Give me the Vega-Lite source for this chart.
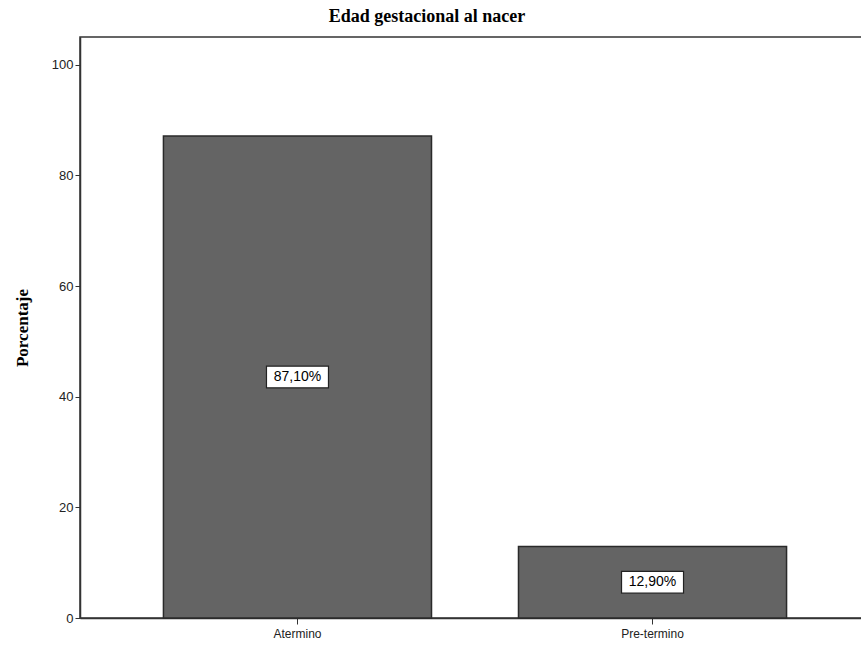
{
  "$schema": "https://vega.github.io/schema/vega-lite/v6.json",
  "autosize": {"type": "none"},
  "width": 790,
  "height": 581,
  "padding": {"left": 80, "top": 37, "right": 0, "bottom": 30},
  "background": "white",
  "title": {
    "text": "Edad gestacional al nacer",
    "font": "Liberation Serif",
    "fontSize": 18,
    "fontWeight": "bold",
    "color": "#000000",
    "offset": 11,
    "dx": -48
  },
  "config": {
    "view": {"stroke": "#333333", "strokeWidth": 1.5}
  },
  "data": {
    "values": [
      {"categoria": "Atermino", "porcentaje": 87.1, "pos_etiqueta": 43.55, "etiqueta": "87,10%"},
      {"categoria": "Pre-termino", "porcentaje": 12.9, "pos_etiqueta": 6.45, "etiqueta": "12,90%"}
    ]
  },
  "encoding": {
    "x": {
      "field": "categoria",
      "type": "nominal",
      "sort": null,
      "scale": {"paddingInner": 0.245, "paddingOuter": 0.235, "align": 0.5},
      "axis": {
        "title": null,
        "labelAngle": 0,
        "labelFont": "Liberation Sans",
        "labelFontSize": 12,
        "labelColor": "#222222",
        "labelPadding": 4,
        "tickSize": 6,
        "tickColor": "#333333",
        "domainColor": "#333333",
        "domainWidth": 1.5,
        "grid": false
      }
    }
  },
  "layer": [
    {
      "mark": {"type": "bar", "color": "#646464", "stroke": "#2a2a2a", "strokeWidth": 1.5},
      "encoding": {
        "y": {
          "field": "porcentaje",
          "type": "quantitative",
          "scale": {"domain": [0, 105], "nice": false},
          "axis": {
            "title": "Porcentaje",
            "titleFont": "Liberation Serif",
            "titleFontSize": 17,
            "titleFontWeight": "bold",
            "titleColor": "#000000",
            "titlePadding": 20,
            "values": [0, 20, 40, 60, 80, 100],
            "labelFont": "Liberation Sans",
            "labelFontSize": 13,
            "labelColor": "#222222",
            "labelPadding": 2,
            "tickSize": 5,
            "tickColor": "#333333",
            "domainColor": "#333333",
            "domainWidth": 1.5,
            "grid": false
          }
        }
      }
    },
    {
      "mark": {
        "type": "point",
        "shape": "M-1,-0.35H1V0.35H-1Z",
        "size": 3844,
        "filled": true,
        "fill": "white",
        "stroke": "#222222",
        "strokeWidth": 1.2,
        "opacity": 1
      },
      "encoding": {
        "y": {"field": "pos_etiqueta", "type": "quantitative"}
      }
    },
    {
      "mark": {"type": "text", "font": "Liberation Sans", "fontSize": 14, "color": "#000000"},
      "encoding": {
        "y": {"field": "pos_etiqueta", "type": "quantitative"},
        "text": {"field": "etiqueta"}
      }
    }
  ]
}
